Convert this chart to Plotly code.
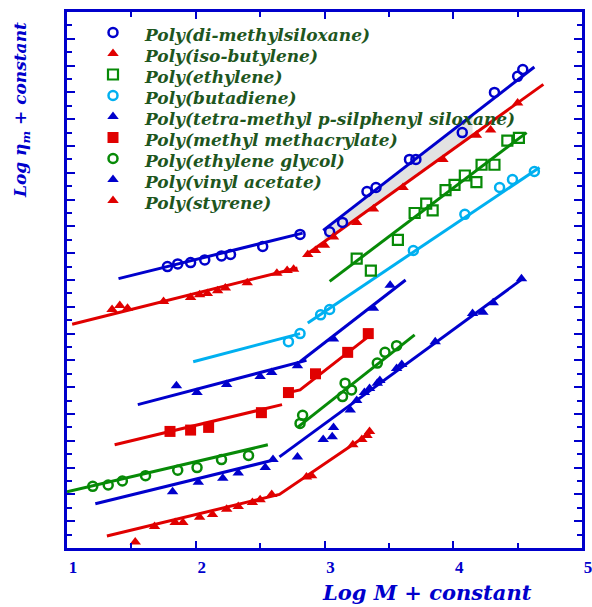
import numpy as np
import plotly.graph_objects as go

# ---------------- data ----------------
names = ["Poly(di-methylsiloxane)", "Poly(iso-butylene)", "Poly(ethylene)",
         "Poly(butadiene)", "Poly(tetra-methyl p-silphenyl siloxane)",
         "Poly(methyl methacrylate)", "Poly(ethylene glycol)",
         "Poly(vinyl acetate)", "Poly(styrene)"]

# Poly(di-methylsiloxane)
pdms_pts_x = [1.78, 1.86, 1.96, 2.07, 2.20, 2.27, 2.52, 2.81,
              3.04, 3.14, 3.33, 3.40, 3.66, 3.71, 4.07, 4.32, 4.50, 4.54]
pdms_pts_y = [21.0, 21.2, 21.3, 21.5, 21.8, 21.9, 22.5, 23.4,
              23.6, 24.3, 26.6, 26.9, 29.0, 29.0, 31.0, 34.0, 35.2, 35.7]
pdms_lo_line_x = [1.40, 2.83]
pdms_lo_line_y = [20.1, 23.5]
pdms_hi_line_x = [2.99, 4.63]
pdms_hi_line_y = [23.7, 35.9]

# Poly(iso-butylene)
pib_pts_x = [1.35, 1.41, 1.47, 1.75, 1.96, 2.03, 2.09, 2.17, 2.23, 2.40, 2.63, 2.71, 2.76,
             2.87, 2.93, 3.00, 3.07, 3.25, 3.38, 3.61, 3.92, 4.18, 4.29, 4.50]
pib_pts_y = [17.8, 18.1, 17.9, 18.4, 18.7, 18.9, 19.0, 19.2, 19.4, 19.8, 20.5, 20.7, 20.8,
             21.9, 22.2, 22.6, 23.2, 24.3, 25.3, 26.9, 29.0, 30.8, 31.2, 33.2]
pib_lo_line_x = [1.04, 2.79]
pib_lo_line_y = [16.7, 20.9]
pib_hi_line_x = [2.86, 4.70]
pib_hi_line_y = [21.9, 34.6]

# shaded band between the two upper lines
band_x = [3.0, 4.15]

# Poly(ethylene)
pe_pts_x = [3.25, 3.36, 3.57, 3.70, 3.79, 3.84, 3.94, 4.01, 4.09, 4.18, 4.22, 4.32, 4.42, 4.51]
pe_pts_y = [21.6, 20.7, 23.0, 25.0, 25.7, 25.2, 26.7, 27.1, 27.8, 27.3, 28.6, 28.6, 30.4, 30.6]
pe_line_x = [3.04, 4.57]
pe_line_y = [19.9, 31.0]

# Poly(butadiene)
pb_pts_x = [2.72, 2.81, 2.97, 3.04, 3.69, 4.09, 4.36, 4.46, 4.63]
pb_pts_y = [15.4, 16.0, 17.4, 17.8, 22.2, 24.9, 26.9, 27.5, 28.1]
pb_lo_line_x = [1.98, 2.81]
pb_lo_line_y = [13.9, 16.0]
pb_hi_line_x = [2.87, 4.67]
pb_hi_line_y = [16.8, 28.4]

# Poly(tetra-methyl p-silphenyl siloxane)
ptmps_pts_x = [1.85, 2.01, 2.24, 2.50, 2.59, 2.79, 3.07, 3.38, 3.51]
ptmps_pts_y = [12.1, 11.6, 12.2, 12.8, 13.1, 13.6, 15.6, 17.9, 19.6]
ptmps_lo_line_x = [1.55, 2.86]
ptmps_lo_line_y = [10.7, 14.0]
ptmps_hi_line_x = [2.81, 3.63]
ptmps_hi_line_y = [13.9, 20.0]

# Poly(methyl methacrylate)
pmma_pts_x = [1.80, 1.96, 2.10, 2.51, 2.72, 2.93, 3.18, 3.34]
pmma_pts_y = [8.7, 8.8, 9.0, 10.1, 11.6, 13.0, 14.6, 16.0]
pmma_lo_line_x = [1.37, 2.67]
pmma_lo_line_y = [7.7, 10.7]
pmma_hi_line_x = [2.72, 2.81, 3.37]
pmma_hi_line_y = [11.6, 11.8, 16.0]

# Poly(ethylene glycol)
peg_pts_x = [1.20, 1.32, 1.43, 1.61, 1.86, 2.01, 2.20, 2.41,
             2.83, 2.81, 3.16, 3.14, 3.21, 3.41, 3.47, 3.56]
peg_pts_y = [4.6, 4.7, 5.0, 5.4, 5.8, 6.0, 6.6, 6.9,
             9.9, 9.3, 12.3, 11.3, 11.8, 13.8, 14.6, 15.1]
peg_lo_line_x = [1.00, 2.56]
peg_lo_line_y = [4.2, 7.7]
peg_hi_line_x = [2.79, 3.70]
peg_hi_line_y = [9.0, 15.9]

# Poly(vinyl acetate)
pvac_pts_x = [1.82, 2.02, 2.21, 2.33, 2.54, 2.60,
              2.79, 2.99, 3.06, 3.07, 3.20, 3.25, 3.31, 3.35, 3.41, 3.43, 3.56, 3.60,
              3.86, 4.15, 4.23, 4.31, 4.53]
pvac_pts_y = [4.2, 4.9, 5.2, 5.6, 6.0, 6.6,
              6.8, 8.1, 8.3, 9.0, 10.3, 11.0, 11.6, 11.9, 12.3, 12.5, 13.4, 13.7,
              15.4, 17.5, 17.6, 18.3, 20.1]
pvac_lo_line_x = [1.22, 2.62]
pvac_lo_line_y = [3.3, 6.6]
pvac_hi_line_x = [2.65, 4.54]
pvac_hi_line_y = [6.8, 20.1]

# Poly(styrene)
ps_pts_x = [1.53, 1.68, 1.84, 1.90, 2.03, 2.13, 2.24, 2.33, 2.44, 2.50, 2.59,
            2.86, 2.90, 3.22, 3.29, 3.33, 3.35]
ps_pts_y = [0.45, 1.6, 1.9, 1.9, 2.3, 2.5, 2.9, 3.1, 3.4, 3.6, 4.0,
            5.3, 5.4, 7.7, 8.1, 8.4, 8.7]
ps_line_x = [1.31, 2.65, 3.37]
ps_line_y = [0.9, 4.0, 8.7]

x_tick_vals = [1, 2, 3, 4, 5]
x_tick_text = ["1", "2", "3", "4", "5"]

# ---------------- styles ----------------
BLUE = "#0000CC"
RED = "#E00000"
GREEN = "#078A07"
LBLUE = "#00B0F0"
TXT = "#1E561E"

def mk(symbol, color, size=10, lw=2.5):
    if symbol.endswith("-open"):
        return dict(symbol=symbol, size=size, color=color, line=dict(color=color, width=lw))
    return dict(symbol=symbol, size=size, color=color, line=dict(width=0))

series = [
    (names[0], pdms_pts_x, pdms_pts_y, [(pdms_lo_line_x, pdms_lo_line_y), (pdms_hi_line_x, pdms_hi_line_y)], BLUE, mk("circle-open", BLUE, 9)),
    (names[1], pib_pts_x, pib_pts_y, [(pib_lo_line_x, pib_lo_line_y), (pib_hi_line_x, pib_hi_line_y)], RED, mk("triangle-up", RED, 10)),
    (names[2], pe_pts_x, pe_pts_y, [(pe_line_x, pe_line_y)], GREEN, mk("square-open", GREEN, 10, 2.2)),
    (names[3], pb_pts_x, pb_pts_y, [(pb_lo_line_x, pb_lo_line_y), (pb_hi_line_x, pb_hi_line_y)], LBLUE, mk("circle-open", LBLUE, 9)),
    (names[4], ptmps_pts_x, ptmps_pts_y, [(ptmps_lo_line_x, ptmps_lo_line_y), (ptmps_hi_line_x, ptmps_hi_line_y)], BLUE, mk("triangle-up", BLUE, 10)),
    (names[5], pmma_pts_x, pmma_pts_y, [(pmma_lo_line_x, pmma_lo_line_y), (pmma_hi_line_x, pmma_hi_line_y)], RED, mk("square", RED, 11)),
    (names[6], peg_pts_x, peg_pts_y, [(peg_lo_line_x, peg_lo_line_y), (peg_hi_line_x, peg_hi_line_y)], GREEN, mk("circle-open", GREEN, 9)),
    (names[7], pvac_pts_x, pvac_pts_y, [(pvac_lo_line_x, pvac_lo_line_y), (pvac_hi_line_x, pvac_hi_line_y)], BLUE, mk("triangle-up", BLUE, 10)),
    (names[8], ps_pts_x, ps_pts_y, [(ps_line_x, ps_line_y)], RED, mk("triangle-up", RED, 10)),
]

fig = go.Figure()

# shaded band between the upper two lines
bx = np.array(band_x)
top = np.interp(bx, pdms_hi_line_x, pdms_hi_line_y)
bot = np.interp(bx, pib_hi_line_x, pib_hi_line_y)
fig.add_trace(go.Scatter(x=list(bx) + list(bx[::-1]), y=list(top) + list(bot[::-1]),
                         fill="toself", fillcolor="#E2E2E2", line=dict(width=0),
                         mode="lines", showlegend=False, hoverinfo="skip"))

for name, px, py, lines, color, marker in series:
    for lx, ly in lines:
        fig.add_trace(go.Scatter(x=lx, y=ly, mode="lines", line=dict(color=color, width=3),
                                 showlegend=False, hoverinfo="skip"))
for name, px, py, lines, color, marker in series:
    fig.add_trace(go.Scatter(x=px, y=py, mode="markers", marker=marker, name=name,
                             showlegend=False))

# legend: symbols on an overlay axis in [0,1] units, labels as annotations
L, R, T, B = 67, 10, 12, 59
W, H = 592, 607
pw, ph = W - L - R, H - T - B
leg_sym_px = 113
leg_txt_px = 142
leg_y0, leg_dy = 35, 21.0
sym_off = -2.5
for i, (name, px, py, lines, color, marker) in enumerate(series):
    yc = leg_y0 + leg_dy * i
    fig.add_trace(go.Scatter(x=[(leg_sym_px - L) / pw], y=[(H - B - (yc + sym_off)) / ph],
                             xaxis="x2", yaxis="y2", mode="markers", marker=dict(marker),
                             showlegend=False, hoverinfo="skip"))
    fig.add_annotation(x=(leg_txt_px - L) / pw, y=(H - B - yc) / ph, xref="paper", yref="paper",
                       text=name, showarrow=False, xanchor="left", yanchor="middle",
                       font=dict(family="DejaVu Serif", size=17, color=TXT, weight="bold", style="italic"))

# axis titles
fig.add_annotation(x=(427 - L) / pw, y=(H - B - 592) / ph, xref="paper", yref="paper",
                   text="Log M + constant", showarrow=False, xanchor="center", yanchor="middle",
                   font=dict(family="DejaVu Serif", size=21, color=BLUE, weight="bold", style="italic"))
fig.add_annotation(x=(21 - L) / pw, y=(H - B - 110) / ph, xref="paper", yref="paper",
                   text="Log η<sub>m</sub> + constant", showarrow=False, textangle=-90,
                   xanchor="center", yanchor="middle",
                   font=dict(family="DejaVu Serif", size=17, color=BLUE, weight="bold", style="italic"))

fig.update_layout(
    width=W, height=H, margin=dict(l=L, r=R, t=T, b=B, autoexpand=False),
    paper_bgcolor="white", plot_bgcolor="white", showlegend=False,
    xaxis=dict(range=[1, 5], tickvals=x_tick_vals, ticktext=x_tick_text,
               ticks="inside", ticklen=7, tickwidth=2, tickcolor=BLUE,
               showline=True, linewidth=3, linecolor=BLUE, mirror="ticks",
               showgrid=False, zeroline=False, automargin=False,
               minor=dict(dtick=0.5, ticks="inside", ticklen=5, tickwidth=2, tickcolor=BLUE, showgrid=False),
               ticklabelstandoff=2, ticklabelshift=6, ticklabeloverflow="allow",
               tickfont=dict(family="Liberation Serif", size=17, color=BLUE, weight="bold")),
    yaxis=dict(range=[0, 40], dtick=2, showticklabels=False,
               ticks="inside", ticklen=8, tickwidth=2, tickcolor=BLUE,
               showline=True, linewidth=3, linecolor=BLUE, mirror="ticks",
               showgrid=False, zeroline=False, automargin=False,
               minor=dict(dtick=1, ticks="inside", ticklen=5, tickwidth=2, tickcolor=BLUE, showgrid=False)),
    xaxis2=dict(overlaying="x", range=[0, 1], visible=False),
    yaxis2=dict(overlaying="y", range=[0, 1], visible=False),
)

fig.write_html("out.html")
